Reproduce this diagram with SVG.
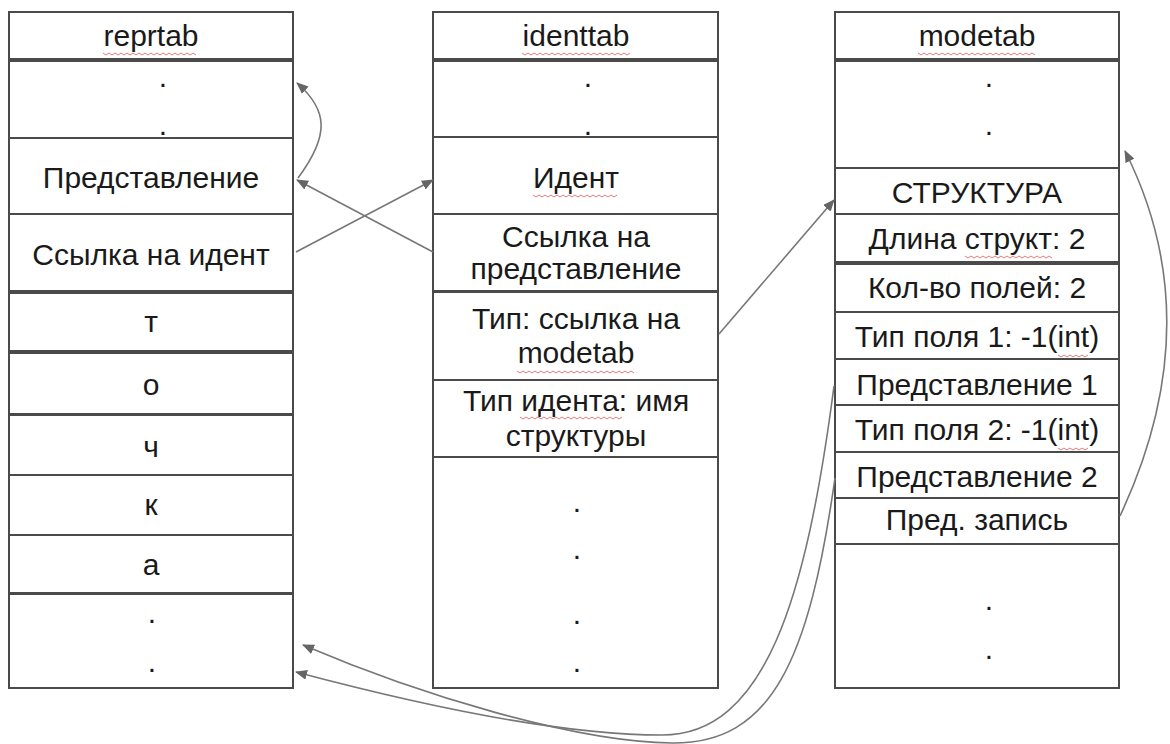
<svg xmlns="http://www.w3.org/2000/svg" width="1170" height="744" viewBox="0 0 1170 744">
<defs>
<style>
.c{fill:#fff;stroke:#4a4a4a;stroke-width:2}
.t{font-family:"Liberation Sans",Arial,sans-serif;font-size:30px;fill:#1a1a1a;text-anchor:middle}
.sq{fill:none;stroke:#e27a7a;stroke-width:1}
.a{fill:none;stroke:#777;stroke-width:1.6}
</style>
<marker id="ah" viewBox="0 0 12 10" refX="11" refY="5" markerWidth="12" markerHeight="10" markerUnits="userSpaceOnUse" orient="auto">
<path d="M0,0 L12,5 L0,10 Z" fill="#666"/>
</marker>
</defs>
<rect width="1170" height="744" fill="#fff"/>

<g id="reprtab">
<rect class="c" x="9" y="12" width="284" height="47"/>
<rect class="c" x="9" y="61" width="284" height="77"/>
<rect class="c" x="9" y="138" width="284" height="76"/>
<rect class="c" x="9" y="214" width="284" height="77"/>
<rect class="c" x="9" y="293" width="284" height="58"/>
<rect class="c" x="9" y="353" width="284" height="61"/>
<rect class="c" x="9" y="415" width="284" height="60"/>
<rect class="c" x="9" y="475" width="284" height="60"/>
<rect class="c" x="9" y="535" width="284" height="58"/>
<rect class="c" x="9" y="594" width="284" height="94"/>
<text class="t" x="151" y="46">reprtab</text>
<text class="t" x="163" y="87">.</text>
<text class="t" x="163" y="135">.</text>
<text class="t" x="151" y="188">Представление</text>
<text class="t" x="151" y="265">Ссылка на идент</text>
<text class="t" x="151" y="332">т</text>
<text class="t" x="151" y="395">о</text>
<text class="t" x="151" y="457">ч</text>
<text class="t" x="151" y="515">к</text>
<text class="t" x="151" y="575">а</text>
<text class="t" x="152" y="623">.</text>
<text class="t" x="152" y="672">.</text>
<path class="sq" d="M103,53 l3,2 l3,-2 l3,2 l3,-2 l3,2 l3,-2 l3,2 l3,-2 l3,2 l3,-2 l3,2 l3,-2 l3,2 l3,-2 l3,2 l3,-2 l3,2 l3,-2 l3,2 l3,-2 l3,2 l3,-2 l3,2 l3,-2 l3,2 l3,-2 l3,2 l3,-2 l3,2 l3,-2 l3,2"/>
</g>

<g id="identtab">
<rect class="c" x="433" y="12" width="285" height="47"/>
<rect class="c" x="433" y="61" width="285" height="76"/>
<rect class="c" x="433" y="137" width="285" height="77"/>
<rect class="c" x="433" y="214" width="285" height="77"/>
<rect class="c" x="433" y="292" width="285" height="88"/>
<rect class="c" x="433" y="380" width="285" height="77"/>
<rect class="c" x="433" y="457" width="285" height="231"/>
<text class="t" x="576" y="46">identtab</text>
<text class="t" x="588" y="87">.</text>
<text class="t" x="588" y="135">.</text>
<text class="t" x="576" y="188">Идент</text>
<text class="t" x="576" y="247">Ссылка на</text>
<text class="t" x="576" y="279">представление</text>
<text class="t" x="576" y="329">Тип: ссылка на</text>
<text class="t" x="576" y="363">modetab</text>
<text class="t" x="576" y="411">Тип идента: имя</text>
<text class="t" x="576" y="446">структуры</text>
<text class="t" x="577" y="512">.</text>
<text class="t" x="577" y="559">.</text>
<text class="t" x="577" y="624">.</text>
<text class="t" x="577" y="672">.</text>
<path class="sq" d="M522,53 l3,2 l3,-2 l3,2 l3,-2 l3,2 l3,-2 l3,2 l3,-2 l3,2 l3,-2 l3,2 l3,-2 l3,2 l3,-2 l3,2 l3,-2 l3,2 l3,-2 l3,2 l3,-2 l3,2 l3,-2 l3,2 l3,-2 l3,2 l3,-2 l3,2 l3,-2 l3,2 l3,-2 l3,2 l3,-2 l3,2 l3,-2 l3,2 l3,-2"/>
<path class="sq" d="M533,195 l3,2 l3,-2 l3,2 l3,-2 l3,2 l3,-2 l3,2 l3,-2 l3,2 l3,-2 l3,2 l3,-2 l3,2 l3,-2 l3,2 l3,-2 l3,2 l3,-2 l3,2 l3,-2 l3,2 l3,-2 l3,2 l3,-2 l3,2 l3,-2 l3,2 l3,-2"/>
<path class="sq" d="M517,371 l3,2 l3,-2 l3,2 l3,-2 l3,2 l3,-2 l3,2 l3,-2 l3,2 l3,-2 l3,2 l3,-2 l3,2 l3,-2 l3,2 l3,-2 l3,2 l3,-2 l3,2 l3,-2 l3,2 l3,-2 l3,2 l3,-2 l3,2 l3,-2 l3,2 l3,-2 l3,2 l3,-2 l3,2 l3,-2 l3,2 l3,-2 l3,2 l3,-2 l3,2 l3,-2 l3,2"/>
<path class="sq" d="M520,417 l3,2 l3,-2 l3,2 l3,-2 l3,2 l3,-2 l3,2 l3,-2 l3,2 l3,-2 l3,2 l3,-2 l3,2 l3,-2 l3,2 l3,-2 l3,2 l3,-2 l3,2 l3,-2 l3,2 l3,-2 l3,2 l3,-2 l3,2 l3,-2 l3,2 l3,-2 l3,2 l3,-2 l3,2 l3,-2 l3,2 l3,-2"/>
</g>

<g id="modetab">
<rect class="c" x="835" y="12" width="284" height="47"/>
<rect class="c" x="835" y="61" width="284" height="107"/>
<rect class="c" x="835" y="168" width="284" height="46"/>
<rect class="c" x="835" y="214" width="284" height="48"/>
<rect class="c" x="835" y="264" width="284" height="48"/>
<rect class="c" x="835" y="312" width="284" height="47"/>
<rect class="c" x="835" y="359" width="284" height="46"/>
<rect class="c" x="835" y="405" width="284" height="47"/>
<rect class="c" x="835" y="452" width="284" height="46"/>
<rect class="c" x="835" y="498" width="284" height="46"/>
<rect class="c" x="835" y="544" width="284" height="144"/>
<text class="t" x="977" y="46">modetab</text>
<text class="t" x="989" y="87">.</text>
<text class="t" x="989" y="135">.</text>
<text class="t" x="977" y="203">СТРУКТУРА</text>
<text class="t" x="977" y="249">Длина структ: 2</text>
<text class="t" x="977" y="298">Кол-во полей: 2</text>
<text class="t" x="977" y="347">Тип поля 1: -1(int)</text>
<text class="t" x="977" y="395">Представление 1</text>
<text class="t" x="977" y="440">Тип поля 2: -1(int)</text>
<text class="t" x="977" y="487">Представление 2</text>
<text class="t" x="977" y="530">Пред. запись</text>
<text class="t" x="989" y="610">.</text>
<text class="t" x="989" y="659">.</text>
<path class="sq" d="M918,53 l3,2 l3,-2 l3,2 l3,-2 l3,2 l3,-2 l3,2 l3,-2 l3,2 l3,-2 l3,2 l3,-2 l3,2 l3,-2 l3,2 l3,-2 l3,2 l3,-2 l3,2 l3,-2 l3,2 l3,-2 l3,2 l3,-2 l3,2 l3,-2 l3,2 l3,-2 l3,2 l3,-2 l3,2 l3,-2 l3,2 l3,-2 l3,2 l3,-2 l3,2 l3,-2 l3,2"/>
<path class="sq" d="M965,256 l3,2 l3,-2 l3,2 l3,-2 l3,2 l3,-2 l3,2 l3,-2 l3,2 l3,-2 l3,2 l3,-2 l3,2 l3,-2 l3,2 l3,-2 l3,2 l3,-2 l3,2 l3,-2 l3,2 l3,-2 l3,2 l3,-2 l3,2 l3,-2 l3,2 l3,-2 l3,2"/>
<path class="sq" d="M1058,355 l3,2 l3,-2 l3,2 l3,-2 l3,2 l3,-2 l3,2 l3,-2 l3,2 l3,-2"/>
<path class="sq" d="M1058,448 l3,2 l3,-2 l3,2 l3,-2 l3,2 l3,-2 l3,2 l3,-2 l3,2 l3,-2"/>
</g>

<g id="connectors">
<path class="a" d="M298,178 C330,135 328,110 297,83" marker-end="url(#ah)"/>
<path class="a" d="M433,252 L297,180" marker-end="url(#ah)"/>
<path class="a" d="M296,252 L433,180" marker-end="url(#ah)"/>
<path class="a" d="M719,334 L834,200" marker-end="url(#ah)"/>
<path class="a" d="M1120,516 C1165,420 1195,290 1125,151" marker-end="url(#ah)"/>
<path class="a" d="M834,386 C806,600 765,735 662,735 C560,735 420,705 296,672" marker-end="url(#ah)"/>
<path class="a" d="M835,478 C809,660 772,744 672,743 C575,742 420,695 303,645" marker-end="url(#ah)"/>
</g>
</svg>
